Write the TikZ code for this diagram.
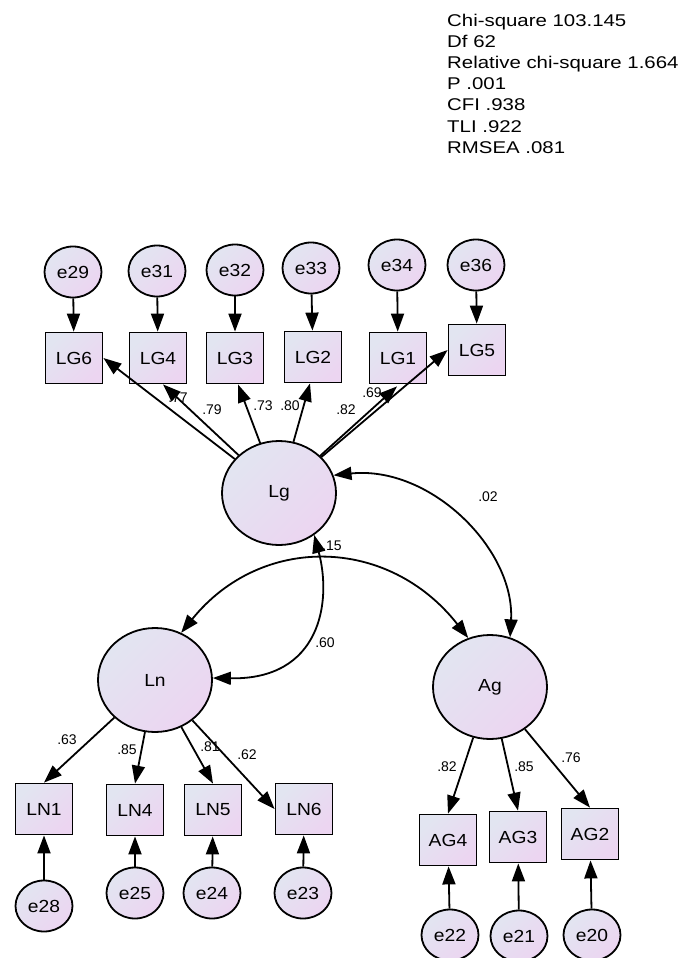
\documentclass[tikz,border=0pt]{standalone}
\usepackage{fontspec}
\setmainfont{Liberation Sans}
\newfontfamily\statfont{Liberation Sans}[FakeStretch=1.2]
\newfontfamily\namefont{Liberation Sans}[FakeStretch=1.1]
\usetikzlibrary{arrows.meta,shapes.geometric,calc}

\definecolor{gtop}{RGB}{226,229,241}
\definecolor{gbot}{RGB}{236,213,241}

\begin{document}
\begin{tikzpicture}[x=1pt,y=-1pt,
  shaded/.style={draw=black, line width=1.8pt, inner sep=0pt,
    top color=gtop, bottom color=gbot, shading angle=45,
    font=\namefont\fontsize{17.5}{20}\selectfont},
  obs/.style={shaded, rectangle, minimum width=57pt, minimum height=51pt},
  err/.style={shaded, ellipse, minimum width=57pt, minimum height=51pt},
  lat/.style={shaded, ellipse, minimum width=114pt, minimum height=104pt},
  tip/.tip={Triangle[length=18pt,width=13pt]},
  reg/.style={line width=1.8pt, -tip},
  cov/.style={line width=1.8pt, tip-tip},
  lbl/.style={font=\fontsize{14}{16}\selectfont, inner sep=0pt}
]
\fill[white] (0,0) rectangle (682,958);
\clip (0,0) rectangle (682,958);
\useasboundingbox (0,0) rectangle (682,958);

% fit statistics
\node[anchor=north west, align=left, inner sep=0pt,
      font=\statfont\fontsize{17}{21.1}\selectfont] (fitstats) at (447,14)
  {Chi-square 103.145\\Df 62\\Relative chi-square 1.664\\P .001\\CFI .938\\TLI .922\\RMSEA .081};

% latent variables
\node[lat] (Lg) at (279,493) {Lg};
\node[lat] (Ln) at (155,680) {Ln};
\node[lat] (Ag) at (490,687) {Ag};

% Lg indicators and their errors
\node[obs] (LG6) at (74,358) {LG6};
\node[obs] (LG4) at (158,358) {LG4};
\node[obs] (LG3) at (235,358) {LG3};
\node[obs] (LG2) at (313,357) {LG2};
\node[obs] (LG1) at (398,358) {LG1};
\node[obs] (LG5) at (477,350) {LG5};
\node[err] (e29) at (73,272) {e29};
\node[err] (e31) at (157,271) {e31};
\node[err] (e32) at (235,270) {e32};
\node[err] (e33) at (311,268) {e33};
\node[err] (e34) at (397,265) {e34};
\node[err] (e36) at (476,265) {e36};

% Ln indicators and their errors
\node[obs] (LN1) at (44,809) {LN1};
\node[obs] (LN4) at (135,810) {LN4};
\node[obs] (LN5) at (213,810) {LN5};
\node[obs] (LN6) at (304,809) {LN6};
\node[err] (e28) at (44,906) {e28};
\node[err] (e25) at (135,893) {e25};
\node[err] (e24) at (212,893) {e24};
\node[err] (e23) at (303,893) {e23};

% Ag indicators and their errors
\node[obs] (AG4) at (448,840) {AG4};
\node[obs] (AG3) at (518,837) {AG3};
\node[obs] (AG2) at (590,834) {AG2};
\node[err] (e22) at (450,935) {e22};
\node[err] (e21) at (519,936) {e21};
\node[err] (e20) at (592,935) {e20};

% error paths
\foreach \e/\v in {e29/LG6,e31/LG4,e32/LG3,e33/LG2,e34/LG1,e36/LG5,
                   e28/LN1,e25/LN4,e24/LN5,e23/LN6,e22/AG4,e21/AG3,e20/AG2}
  \draw[reg] (\e) -- (\v);

% loadings of Lg
\draw[reg] (Lg) -- (LG6.east);
\draw[reg] (Lg) -- ($(LG4.south)+(5,0)$);
\draw[reg] (Lg) -- ($(LG3.south)+(3,0)$);
\draw[reg] (Lg) -- ($(LG2.south)+(-3,0)$);
\draw[reg] (Lg) -- ($(LG1.south)+(-1,2)$);
\draw[reg] (Lg) -- (LG5.west);

% loadings of Ln
\draw[reg] (Ln) -- (LN1.north);
\draw[reg] (Ln) -- (LN4.north);
\draw[reg] (Ln) -- (LN5.north);
\draw[reg] (Ln) -- (LN6.west);

% loadings of Ag
\draw[reg] (Ag) -- (AG4.north);
\draw[reg] (Ag) -- (AG3.north);
\draw[reg] (Ag) -- (AG2.north);

% covariances
\draw[cov] (Lg.18) .. controls ($(Lg.18)+(97,-10)$) and ($(Ag.68)+(5,-88)$) .. (Ag.68);
\draw[cov] (Lg.-50) .. controls ($(Lg.-50)+(18,68)$) and ($(Ln.2)+(107,2)$) .. (Ln.2);
\draw[cov] (Ln.61) .. controls ($(Ln.61)+(80,-99)$) and ($(Ag.114)+(-80,-102)$) .. (Ag.114);

% coefficient labels
\node[lbl] (l77) at (178,398) {.77};
\node[lbl] (l79) at (212,410) {.79};
\node[lbl] (l73) at (263,406) {.73};
\node[lbl] (l80) at (290,406) {.80};
\node[lbl] (l82a) at (346,410) {.82};
\node[lbl] (l69) at (372,393) {.69};
\node[lbl] (l02) at (488,497) {.02};
\node[lbl] (l15) at (332,546) {.15};
\node[lbl] (l60) at (325,643) {.60};
\node[lbl] (l63) at (67,740) {.63};
\node[lbl] (l85a) at (127,750) {.85};
\node[lbl] (l81) at (210,747) {.81};
\node[lbl] (l62) at (247,755) {.62};
\node[lbl] (l82b) at (447,767) {.82};
\node[lbl] (l85b) at (524,767) {.85};
\node[lbl] (l76) at (571,758) {.76};
\end{tikzpicture}
\end{document}
